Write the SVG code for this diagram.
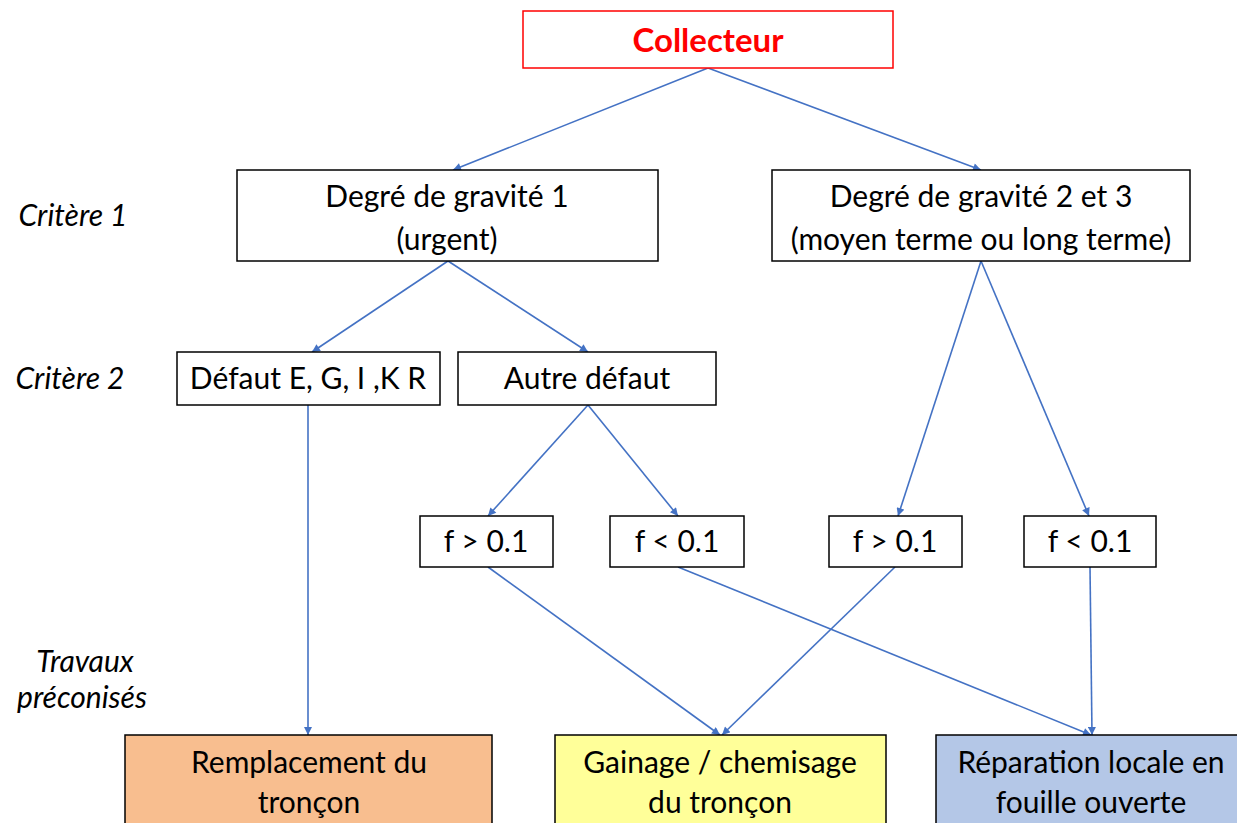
<svg xmlns="http://www.w3.org/2000/svg" width="1237" height="823" viewBox="0 0 1237 823">
<style>
.box{fill:#fff;stroke:#000;stroke-width:1.5}
.t{font-family:Lato,"Liberation Sans",sans-serif;font-size:30px;fill:#000;text-anchor:middle}
.lab{font-family:Lato,"Liberation Sans",sans-serif;font-size:30px;font-style:italic;fill:#000;text-anchor:middle}
.c{stroke:#4472C4;stroke-width:1.6;fill:none;marker-end:url(#ah)}
</style>
<defs>
<marker id="ah" viewBox="0 0 10 10" refX="10" refY="5" markerWidth="9" markerHeight="8" markerUnits="userSpaceOnUse" orient="auto"><path d="M0,0 L10,5 L0,10 z" fill="#4472C4"/></marker>
</defs>
<rect width="1237" height="823" fill="#fff"/>
<g id="labels">
<text class="lab" x="73" y="226">Critère 1</text>
<text class="lab" x="70" y="389">Critère 2</text>
<text class="lab" x="85" y="672">Travaux</text>
<text class="lab" x="82" y="708">préconisés</text>
</g>
<g id="connectors">
<line class="c" x1="708" y1="68" x2="453" y2="170"/>
<line class="c" x1="708" y1="68" x2="981" y2="170"/>
<line class="c" x1="448" y1="261" x2="312" y2="352"/>
<line class="c" x1="448" y1="261" x2="588" y2="352"/>
<line class="c" x1="981" y1="261" x2="898" y2="516"/>
<line class="c" x1="981" y1="261" x2="1089" y2="516"/>
<line class="c" x1="308" y1="405" x2="308" y2="735"/>
<line class="c" x1="588" y1="405" x2="488" y2="516"/>
<line class="c" x1="588" y1="405" x2="678" y2="516"/>
<line class="c" x1="488" y1="567" x2="720" y2="735"/>
<line class="c" x1="895" y1="567" x2="722" y2="735"/>
<line class="c" x1="678" y1="567" x2="1091" y2="735"/>
<line class="c" x1="1090" y1="567" x2="1092" y2="735"/>
</g>
<g id="collecteur">
<rect x="523" y="11" width="370" height="57" fill="#fff" stroke="#f00" stroke-width="1.5"/>
<text class="t" x="708" y="52" style="fill:#f00;font-weight:bold;font-size:33px">Collecteur</text>
</g>
<g id="gravite1">
<rect class="box" x="237" y="170" width="421" height="91"/>
<text class="t" x="447" y="207">Degré de gravité 1</text>
<text class="t" x="447" y="250">(urgent)</text>
</g>
<g id="gravite23">
<rect class="box" x="772" y="170" width="418" height="91"/>
<text class="t" x="981" y="207">Degré de gravité 2 et 3</text>
<text class="t" x="981" y="250">(moyen terme ou long terme)</text>
</g>
<g id="defautEGIKR">
<rect class="box" x="177" y="352" width="263" height="53"/>
<text class="t" x="308" y="389">Défaut E, G, I ,K R</text>
</g>
<g id="autredefaut">
<rect class="box" x="458" y="352" width="258" height="53"/>
<text class="t" x="587" y="389">Autre défaut</text>
</g>
<g id="f1">
<rect class="box" x="420" y="516" width="133" height="51"/>
<text class="t" x="486" y="552">f &gt; 0.1</text>
</g>
<g id="f2">
<rect class="box" x="610" y="516" width="134" height="51"/>
<text class="t" x="677" y="552">f &lt; 0.1</text>
</g>
<g id="f3">
<rect class="box" x="829" y="516" width="133" height="51"/>
<text class="t" x="895" y="552">f &gt; 0.1</text>
</g>
<g id="f4">
<rect class="box" x="1024" y="516" width="132" height="51"/>
<text class="t" x="1090" y="552">f &lt; 0.1</text>
</g>
<g id="remplacement">
<rect x="125" y="735" width="367" height="95" fill="#F8BE8F" stroke="#000" stroke-width="1.5"/>
<text class="t" x="309" y="773">Remplacement du</text>
<text class="t" x="309" y="813">tronçon</text>
</g>
<g id="gainage">
<rect x="555" y="735" width="331" height="95" fill="#FFFF99" stroke="#000" stroke-width="1.5"/>
<text class="t" x="720" y="773">Gainage / chemisage</text>
<text class="t" x="720" y="813">du tronçon</text>
</g>
<g id="reparation">
<rect x="936" y="735" width="310" height="95" fill="#B4C7E7" stroke="#000" stroke-width="1.5"/>
<text class="t" x="1091" y="773">Réparation locale en</text>
<text class="t" x="1091" y="813">fouille ouverte</text>
</g>
</svg>
